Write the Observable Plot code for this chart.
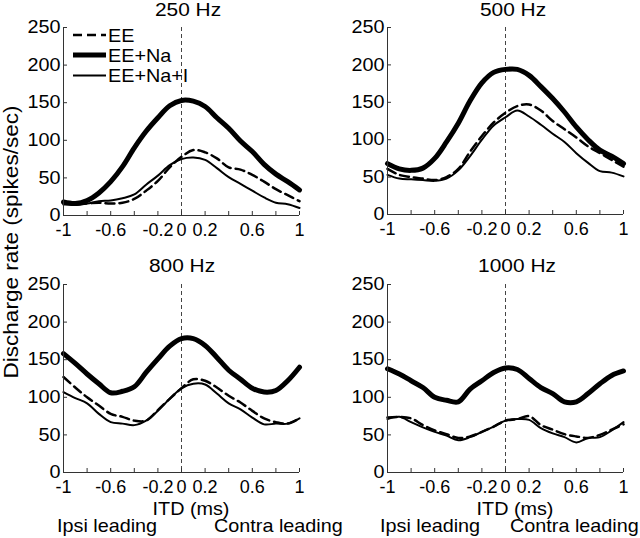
<!DOCTYPE html>
<html>
<head>
<meta charset="utf-8">
<script src="https://cdn.jsdelivr.net/npm/d3@7"></script>
<script src="https://cdn.jsdelivr.net/npm/@observablehq/plot@0.6"></script>
<style>
  body { margin: 0; background: #fff; }
  #root { position: relative; width: 640px; height: 538px; overflow: hidden; background: #fff; }
  #root > svg { position: absolute; max-width: none; }
</style>
</head>
<body>
<div id="root"></div>
<script>
// ---- data (ITD in ms, discharge rate in spikes/sec) ----
const itd = [-1, -0.9, -0.8, -0.7, -0.6, -0.5, -0.4, -0.3, -0.2, -0.1, 0, 0.1, 0.2, 0.3, 0.4, 0.5, 0.6, 0.7, 0.8, 0.9, 1];

const ee250     = [15, 15, 16, 17, 16, 17, 22, 33, 46, 64, 78, 87, 84, 76, 64, 61, 54, 45, 35, 27, 19];
const eeNa250   = [18, 16, 20, 30, 45, 65, 90, 112, 130, 146, 153, 152, 145, 130, 116, 99, 85, 68, 55, 45, 34];
const eeNaI250  = [18, 14, 16, 19, 20, 23, 28, 41, 53, 67, 75, 77, 74, 63, 51, 42, 33, 24, 17, 15, 10];

const ee500     = [61, 53, 50, 48, 46, 50, 61, 84, 105, 123, 136, 145, 147, 139, 125, 114, 103, 91, 82, 73, 64];
const eeNa500   = [68, 61, 59, 62, 75, 97, 122, 152, 176, 190, 194, 194, 186, 171, 155, 137, 117, 100, 86, 78, 68];
const eeNaI500  = [53, 48, 47, 46, 45, 48, 59, 78, 100, 119, 130, 139, 131, 120, 108, 97, 82, 69, 58, 56, 51];

const ee800     = [127, 113, 100, 89, 78, 74, 69, 69, 83, 98, 112, 124, 122, 113, 102, 93, 82, 72, 67, 65, 72];
const eeNa800   = [158, 145, 131, 118, 106, 108, 114, 133, 151, 168, 178, 178, 169, 153, 136, 124, 112, 107, 109, 122, 140];
const eeNaI800  = [107, 99, 92, 78, 67, 65, 63, 69, 82, 98, 112, 118, 117, 105, 92, 84, 73, 64, 65, 65, 72];

const ee1000    = [73, 74, 72, 63, 56, 51, 46, 48, 54, 61, 69, 71, 75, 63, 57, 51, 48, 46, 50, 57, 64];
const eeNa1000  = [138, 131, 122, 113, 100, 96, 94, 111, 122, 133, 139, 137, 125, 113, 105, 94, 94, 105, 118, 129, 135];
const eeNaI1000 = [71, 74, 67, 60, 54, 49, 43, 47, 54, 61, 69, 71, 70, 59, 52, 47, 40, 46, 47, 56, 67];

const panelTitles = ["250 Hz", "500 Hz", "800 Hz", "1000 Hz"];
const seriesNames = ["EE", "EE+Na", "EE+Na+I"];

const xTickValues = [-1, -0.8, -0.6, -0.4, -0.2, 0, 0.2, 0.4, 0.6, 0.8, 1];
const xTickText   = ["-1", "", "-0.6", "", "-0.2", "0", "0.2", "", "0.6", "", "1"];
const yTickValues = [0, 50, 100, 150, 200, 250];

// ---- styles ----
const FONT = "'Liberation Sans', Arial, Helvetica, sans-serif";
const STRETCH = 1.1;
const seriesStyle = {
  "EE":      {strokeWidth: 2.5, strokeDasharray: "9,5"},
  "EE+Na":   {strokeWidth: 5,   strokeDasharray: null},
  "EE+Na+I": {strokeWidth: 2,   strokeDasharray: null}
};

const panels = [
  {title: panelTitles[0], series: [ee250, eeNa250, eeNaI250],   left: 0,   top: 0,   ml: 63, mr: 21, mt: 27, mb: 54},
  {title: panelTitles[1], series: [ee500, eeNa500, eeNaI500],   left: 320, top: 0,   ml: 67, mr: 17, mt: 27, mb: 55},
  {title: panelTitles[2], series: [ee800, eeNa800, eeNaI800],   left: 0,   top: 269, ml: 63, mr: 21, mt: 15, mb: 66},
  {title: panelTitles[3], series: [ee1000, eeNa1000, eeNaI1000], left: 320, top: 269, ml: 67, mr: 17, mt: 15, mb: 66}
];

// widen glyphs horizontally (reference font is wider than Liberation Sans)
function stretchTexts(nodes, k) {
  nodes.forEach(t => {
    const x = t.getAttribute("x") || "0";
    const tr = t.getAttribute("transform") || "";
    t.setAttribute("transform", `${tr} translate(${x},0) scale(${k},1)`);
    t.setAttribute("x", 0);
  });
}

const root = document.getElementById("root");

panels.forEach(p => {
  const lineMarks = seriesNames.map((name, si) => {
    const rows = itd.map((t, i) => ({t, v: p.series[si][i]}));
    const st = seriesStyle[name];
    return Plot.line(rows, {
      x: "t", y: "v", stroke: "#000",
      strokeWidth: st.strokeWidth,
      strokeDasharray: st.strokeDasharray,
      strokeLinejoin: "round",
      curve: "catmull-rom"
    });
  });
  const svg = Plot.plot({
    width: 320,
    height: 269,
    marginLeft: p.ml, marginRight: p.mr, marginTop: p.mt, marginBottom: p.mb,
    x: {domain: [-1, 1]},
    y: {domain: [0, 250]},
    style: {fontFamily: FONT, fontSize: "18px", color: "#000", background: "transparent", overflow: "visible"},
    marks: [
      Plot.ruleX([0], {stroke: "#444", strokeWidth: 1, strokeDasharray: "4,3"}),
      ...lineMarks,
      Plot.ruleX([-1], {stroke: "#333", strokeWidth: 1}),
      Plot.ruleY([0], {stroke: "#333", strokeWidth: 1}),
      Plot.axisY({ticks: yTickValues, tickSize: -4, tickPadding: 7, tickFormat: d => String(d), label: null, stroke: "#333", fill: "#000"}),
      Plot.axisX({ticks: xTickValues, tickSize: -4, tickPadding: 12, tickFormat: d => xTickText[xTickValues.indexOf(d)] ?? "", label: null, stroke: "#333", fill: "#000", letterSpacing: "-0.4px"})
    ]
  });
  // stretch only the y tick labels
  const yTexts = [...svg.querySelectorAll('g[aria-label="y-axis tick label"] text')];
  stretchTexts(yTexts, STRETCH);
  svg.style.left = p.left + "px";
  svg.style.top = p.top + "px";
  root.appendChild(svg);
});

// ---- overlay: titles, axis labels, legend ----
const ov = d3.create("svg")
  .attr("width", 640).attr("height", 538)
  .style("left", "0px").style("top", "0px")
  .style("pointer-events", "none")
  .attr("font-family", FONT);

function addText(str, x, y, size, anchor, rotate) {
  ov.append("text")
    .attr("transform", `translate(${x},${y})${rotate ? ` rotate(${rotate})` : ""} scale(${STRETCH},1)`)
    .attr("text-anchor", anchor)
    .attr("font-size", size)
    .attr("fill", "#000")
    .text(str);
}

addText(panelTitles[0], 188, 16, 19, "middle");
addText(panelTitles[1], 513, 16, 19, "middle");
addText(panelTitles[2], 182, 272, 19, "middle");
addText(panelTitles[3], 517, 272, 19, "middle");

addText("Discharge rate (spikes/sec)", 18, 242, 20.5, "middle", -90);

addText("ITD (ms)", 191, 515, 18, "middle");
addText("ITD (ms)", 515, 515, 18, "middle");
addText("Ipsi leading", 57, 532, 18, "start");
addText("Contra leading", 214, 532, 18, "start");
addText("Ipsi leading", 380, 532, 18, "start");
addText("Contra leading", 510, 532, 18, "start");

// legend
const legendY = [35, 55, 75.5];
seriesNames.forEach((name, i) => {
  const st = seriesStyle[name];
  ov.append("line")
    .attr("x1", 73).attr("x2", 106)
    .attr("y1", legendY[i]).attr("y2", legendY[i])
    .attr("stroke", "#000")
    .attr("stroke-width", st.strokeWidth)
    .attr("stroke-dasharray", st.strokeDasharray);
  addText(name, 108, legendY[i] + 6.5, 18, "start");
});

root.appendChild(ov.node());
</script>
</body>
</html>
